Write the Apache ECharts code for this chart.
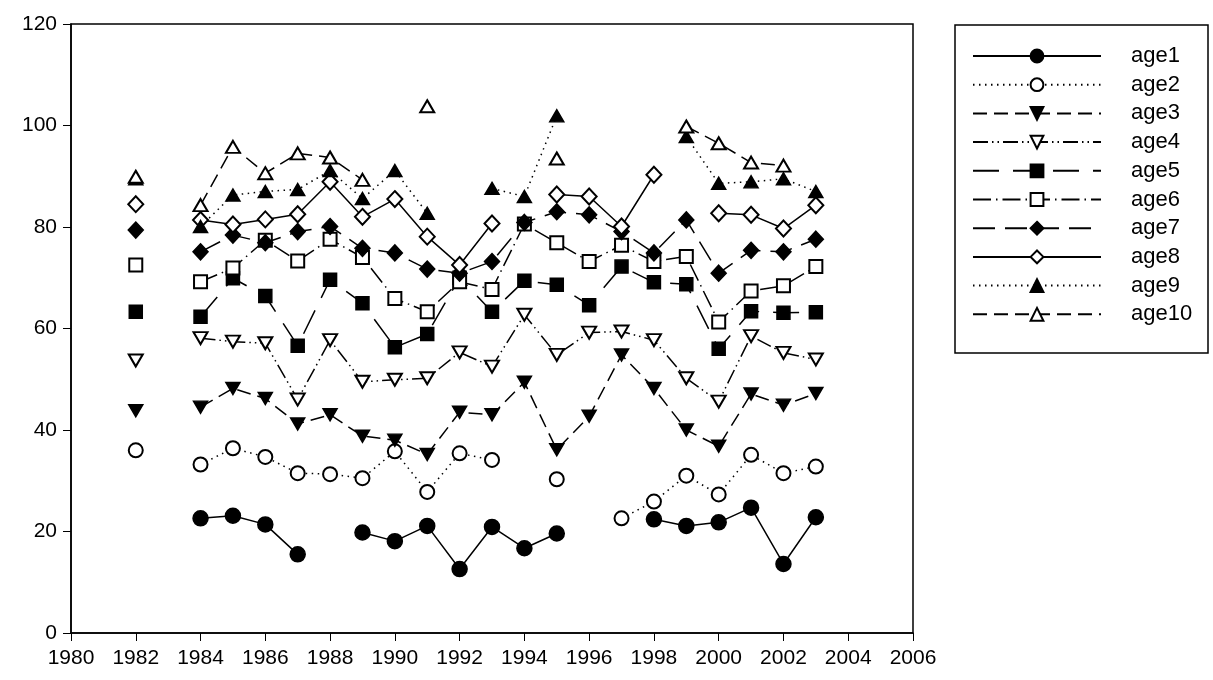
<!DOCTYPE html>
<html>
<head>
<meta charset="utf-8">
<script src="https://cdn.jsdelivr.net/npm/echarts@6/dist/echarts.min.js"></script>
<style>html,body{margin:0;padding:0;background:#fff}#c{width:1213px;height:680px}</style>
</head>
<body>
<div id="c"></div>
<script>
const years = [1982,1983,1984,1985,1986,1987,1988,1989,1990,1991,1992,1993,1994,1995,1996,1997,1998,1999,2000,2001,2002,2003];
const age1  = [null,null,22.6,23.1,21.4,15.5,null,19.8,18.1,21.1,12.6,20.9,16.7,19.6,null,null,22.4,21.1,21.8,24.7,13.6,22.8];
const age2  = [36.0,null,33.2,36.4,34.7,31.5,31.3,30.5,35.8,27.8,35.4,34.1,null,30.3,null,22.6,25.9,31.0,27.3,35.1,31.5,32.8];
const age3  = [43.8,null,44.5,48.2,46.2,41.2,43.0,38.8,38.0,35.2,43.5,43.0,49.4,36.1,42.7,54.8,48.2,40.0,36.8,47.1,44.9,47.2];
const age4  = [53.7,null,58.1,57.4,57.1,46.0,57.7,49.5,49.9,50.2,55.3,52.5,62.7,54.8,59.2,59.4,57.7,50.2,45.6,58.5,55.2,53.9];
const age5  = [63.3,null,62.3,69.9,66.4,56.6,69.6,65.0,56.3,58.9,70.0,63.3,69.4,68.6,64.6,72.2,69.1,68.7,56.0,63.4,63.1,63.2];
const age6  = [72.5,null,69.2,71.9,77.4,73.3,77.6,74.0,65.9,63.3,69.2,67.7,80.6,76.9,73.2,76.4,73.2,74.2,61.3,67.4,68.4,72.2];
const age7  = [79.4,null,75.1,78.4,76.9,79.1,80.1,75.8,74.9,71.7,70.9,73.2,80.9,83.0,82.4,79.1,74.9,81.4,70.9,75.4,75.1,77.6];
const age8  = [84.5,null,81.4,80.5,81.5,82.5,88.9,82.0,85.5,78.1,72.5,80.7,null,86.4,86.0,80.1,90.3,null,82.7,82.4,79.7,84.3];
const age9  = [89.5,null,80.1,86.3,87.0,87.4,91.1,85.6,91.1,82.7,null,87.6,86.0,101.9,null,null,null,97.8,88.6,88.9,89.5,87.0];
const age10 = [89.9,null,84.3,95.8,90.6,94.5,93.7,89.3,null,103.8,null,null,null,93.5,null,null,null,99.8,96.5,92.7,92.1,null];
const xTicks = {min:1980, max:2006, interval:2};
const yTicks = {min:0, max:120, interval:20};

const names = ['age1','age2','age3','age4','age5','age6','age7','age8','age9','age10'];
const values = [age1,age2,age3,age4,age5,age6,age7,age8,age9,age10];
const styles = [
  {symbol:'circle', size:15, rot:0, dash:'solid'},
  {symbol:'emptyCircle', size:14, rot:0, dash:[1.5,4.5]},
  {symbol:'triangle', size:[14,12], rot:180, dash:[14,7]},
  {symbol:'emptyTriangle', size:[14,12], rot:180, dash:[15,4,1.5,4,1.5,4]},
  {symbol:'rect', size:13, rot:0, dash:[26,14]},
  {symbol:'emptyRect', size:13, rot:0, dash:[18,5,1.5,5]},
  {symbol:'diamond', size:[15,16], rot:0, dash:[22,10]},
  {symbol:'emptyDiamond', size:[15,16], rot:0, dash:'solid'},
  {symbol:'triangle', size:[14,12], rot:0, dash:[1.5,4.5]},
  {symbol:'emptyTriangle', size:[14,12], rot:0, dash:[14,7]}
];

const series = names.map((n,i)=>({
  name:n, type:'line',
  data: years.map((y,j)=>[y, values[i][j]]),
  symbol: styles[i].symbol,
  symbolSize: styles[i].size,
  symbolRotate: styles[i].rot,
  showAllSymbol: true,
  connectNulls: false,
  lineStyle:{color:'#000', width:1.5, type: styles[i].dash},
  itemStyle:{color:'#000', borderColor:'#000', borderWidth:1.5},
  emphasis:{disabled:true},
  animation:false
}));

const chart = echarts.init(document.getElementById('c'), null, {renderer:'canvas'});
chart.setOption({
  backgroundColor:'#fff',
  animation:false,
  textStyle:{fontFamily:'Liberation Sans, Arial, sans-serif'},
  grid:{left:71, right:300, top:24, bottom:47, show:true, borderColor:'#000', borderWidth:1.5, backgroundColor:'transparent'},
  xAxis:{type:'value', min:xTicks.min, max:xTicks.max, interval:xTicks.interval,
    axisLine:{show:true, lineStyle:{color:'#000', width:1.5}},
    axisTick:{show:true, length:8, lineStyle:{color:'#000', width:1}},
    axisLabel:{color:'#000', fontSize:21, margin:15, formatter: v=>String(v)},
    splitLine:{show:false}},
  yAxis:{type:'value', min:yTicks.min, max:yTicks.max, interval:yTicks.interval,
    axisLine:{show:true, lineStyle:{color:'#000', width:1.5}},
    axisTick:{show:true, length:8, lineStyle:{color:'#000', width:1}},
    axisLabel:{color:'#000', fontSize:21, margin:14},
    splitLine:{show:false}},
  legend:{orient:'vertical', left:967, top:40, itemWidth:128, itemHeight:16, itemGap:6.7,
    data:names, selectedMode:false,
    textStyle:{color:'#000', fontSize:22, padding:[0,0,0,25]}},
  graphic:[{type:'rect', shape:{x:955, y:25, width:253, height:328}, style:{fill:'none', stroke:'#000', lineWidth:1.5}, silent:true}],
  series: series
});
</script>
</body>
</html>
